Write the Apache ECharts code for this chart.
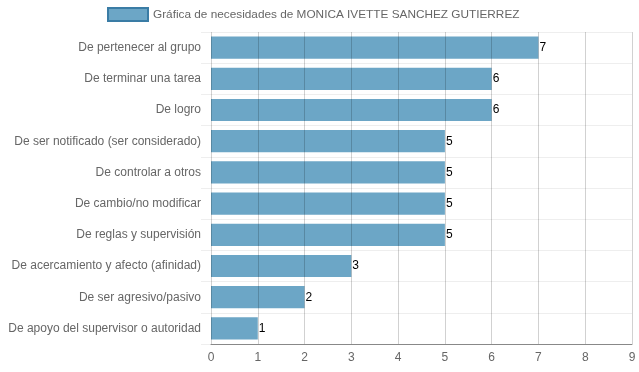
<!DOCTYPE html>
<html><head><meta charset="utf-8">
<script src="https://cdn.jsdelivr.net/npm/echarts@6/dist/echarts.min.js"></script>
<style>html,body{margin:0;padding:0;background:#fff}#c{width:639px;height:372px}</style>
</head><body><div id="c"></div>
<script>
const categories = [
  "De pertenecer al grupo",
  "De terminar una tarea",
  "De logro",
  "De ser notificado (ser considerado)",
  "De controlar a otros",
  "De cambio/no modificar",
  "De reglas y supervisión",
  "De acercamiento y afecto (afinidad)",
  "De ser agresivo/pasivo",
  "De apoyo del supervisor o autoridad"
];
const values = [7, 6, 6, 5, 5, 5, 5, 3, 2, 1];
const seriesName = "Gráfica de necesidades de MONICA IVETTE SANCHEZ GUTIERREZ";

const chart = echarts.init(document.getElementById('c'));
chart.setOption({
  animation: false,
  textStyle: {fontFamily: "Liberation Sans, Arial, sans-serif"},
  legend: {
    top: 2, left: 102, padding: 5,
    itemWidth: 40, itemHeight: 13, itemGap: 6,
    textStyle: {color: '#666', fontSize: 11.8, fontFamily: "Liberation Sans, Arial, sans-serif"},
    data: [{name: seriesName, icon: 'rect', itemStyle: {color: '#6ca6c6', borderColor: '#3a7ca5', borderWidth: 2}}]
  },
  grid: {left: 211, right: 7, top: 32, bottom: 28},
  xAxis: {
    type: 'value', min: 0, max: 9, interval: 1, z: 5,
    axisLine: {show: true, lineStyle: {color: '#888'}},
    axisTick: {show: false},
    axisLabel: {color: '#666', fontSize: 12, margin: 8},
    splitLine: {show: true, lineStyle: {color: 'rgba(0,0,0,0.18)'}}
  },
  yAxis: {
    type: 'category', inverse: true, data: categories,
    axisLine: {show: false},
    axisTick: {show: true, length: 10, lineStyle: {color: '#eee', width: 1}},
    axisLabel: {color: '#666', fontSize: 12, margin: 10},
    splitLine: {show: true, lineStyle: {color: '#eee', width: 1}}
  },
  series: [{
    name: seriesName, type: 'bar', data: values,
    barWidth: '71%',
    itemStyle: {color: '#6ca6c6'},
    label: {show: true, position: 'right', distance: 1, color: '#000', fontSize: 12}
  }]
});
</script></body></html>
